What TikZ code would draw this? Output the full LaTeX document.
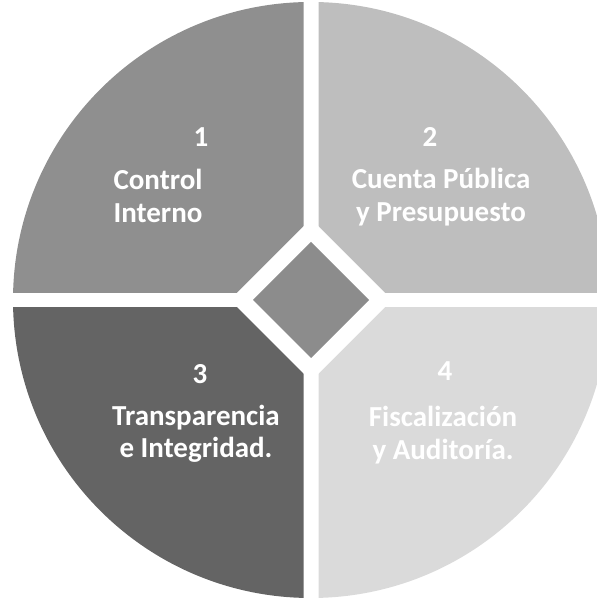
\documentclass[tikz,border=0pt]{standalone}
\usepackage{fontspec}
\setmainfont{Carlito}
\definecolor{kw1}{HTML}{8F8F8F}
\definecolor{kw2}{HTML}{BEBEBE}
\definecolor{kw3}{HTML}{646464}
\definecolor{kw4}{HTML}{DADADA}
\definecolor{romb}{HTML}{8C8C8C}
\begin{document}
\begin{tikzpicture}[every node/.style={text=white, font=\bfseries\fontsize{16.5}{18.5}\selectfont, align=center}]
  \useasboundingbox (0,0) rectangle (11.92,11.96);
  \coordinate (c) at (6.22,5.96);

  \foreach \sx/\sy/\kol in {-1/1/kw1, 1/1/kw2, -1/-1/kw3, 1/-1/kw4} {
    \begin{scope}[shift={(c)}]
      \clip (\sx*0.15,\sy*0.15) rectangle (\sx*7,\sy*7); % cwiartka
      \fill[\kol] (0,0) circle (5.96);
    \end{scope}
  }

  \fill[white] (c) +(-1.62,0) -- +(0,1.62) -- +(1.62,0) -- +(0,-1.62) -- cycle; % wyciecie
  \fill[romb] (c) +(-1.16,0) -- +(0,1.16) -- +(1.16,0) -- +(0,-1.16) -- cycle; % romb

  \node (n1) at (4.02,9.22) {1};
  \node (t1) at (3.16,8.04) {Control\\Interno};
  \node (n2) at (8.6,9.22) {2};
  \node (t2) at (8.82,8.02) {Cuenta Pública\\y Presupuesto};
  \node (n3) at (4.0,4.48) {3};
  \node (t3) at (3.92,3.28) {Transparencia\\e Integridad.};
  \node (n4) at (8.9,4.54) {4};
  \node (t4) at (8.86,3.26) {Fiscalización\\y Auditoría.};
\end{tikzpicture}
\end{document}
